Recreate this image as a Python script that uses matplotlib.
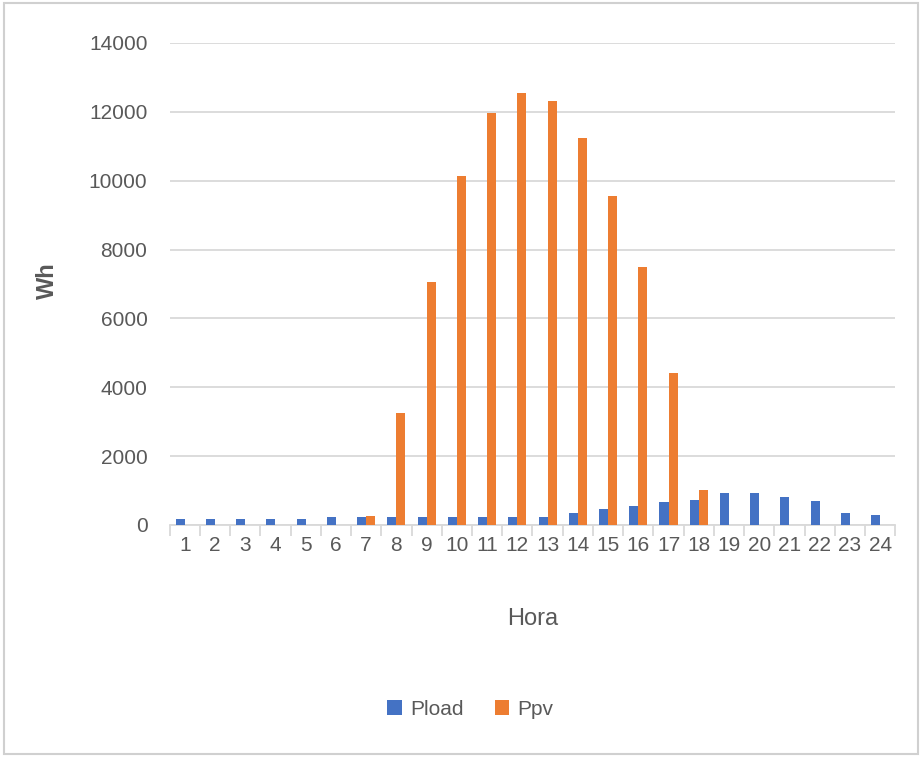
"""Hourly load vs PV generation bar chart."""

import matplotlib.pyplot as plt
import numpy as np
from matplotlib.patches import Rectangle

hours = list(range(1, 25))
pload = [175, 175, 175, 175, 175, 230, 230, 230, 230, 230, 230, 230,
         230, 350, 450, 550, 670, 730, 930, 930, 810, 700, 350, 290]
ppv = [0, 0, 0, 0, 0, 0, 270, 3250, 7050, 10150, 11980, 12550,
       12320, 11250, 9550, 7500, 4400, 1020, 0, 0, 0, 0, 0, 0]
y_ticks = [0, 2000, 4000, 6000, 8000, 10000, 12000, 14000]

BLUE = "#4472C4"
ORANGE = "#ED7D31"
GRID = "#D9D9D9"
TEXT = "#595959"

plt.rcParams["font.family"] = ["Liberation Sans", "DejaVu Sans"]


def main():
    fig = plt.figure(figsize=(9.22, 7.57), dpi=100)
    ax = fig.add_axes([0.184, 0.3065, 0.787, 0.6367])

    x = np.arange(len(hours))
    width = 0.3
    ax.bar(x - width / 2, pload, width, color=BLUE, label="Pload", zorder=3)
    ax.bar(x + width / 2, ppv, width, color=ORANGE, label="Ppv", zorder=3)

    ax.set_xlim(-0.5, len(hours) - 0.5)
    ax.set_ylim(0, 14000)
    ax.set_yticks(y_ticks)
    ax.set_yticklabels([str(v) for v in y_ticks], fontsize=15, color=TEXT)
    ax.tick_params(axis="y", length=0, pad=16)
    ax.yaxis.grid(True, color=GRID, linewidth=1.3, zorder=0)

    ax.set_xticks(x)
    ax.set_xticklabels([str(h) for h in hours], fontsize=15, color=TEXT)
    ax.set_xticks(np.arange(-0.5, len(hours)), minor=True)
    ax.tick_params(axis="x", which="major", length=0, pad=8)
    ax.tick_params(axis="x", which="minor", length=8, color=GRID, width=1.3)

    for side in ("top", "right", "left"):
        ax.spines[side].set_visible(False)
    ax.spines["bottom"].set_color(GRID)
    ax.spines["bottom"].set_linewidth(1.3)

    ax.set_xlabel("Hora", fontsize=17, color=TEXT)
    ax.xaxis.set_label_coords(0.5, -0.172)
    ax.set_ylabel("Wh", fontsize=17, color=TEXT, fontweight="bold")
    ax.yaxis.set_label_coords(-0.152, 0.508)

    fig.legend(loc="center", bbox_to_anchor=(0.51, 0.063), ncol=2, frameon=False,
               fontsize=15, labelcolor=TEXT, handlelength=0.7, handleheight=0.7,
               handletextpad=0.4, columnspacing=1.5)

    fig.patches.append(Rectangle((0.004, 0.004), 0.992, 0.992, transform=fig.transFigure,
                                 fill=False, edgecolor="#D0D0D0", linewidth=1.5))

    fig.savefig("out.png", dpi=100)


if __name__ == "__main__":
    main()
